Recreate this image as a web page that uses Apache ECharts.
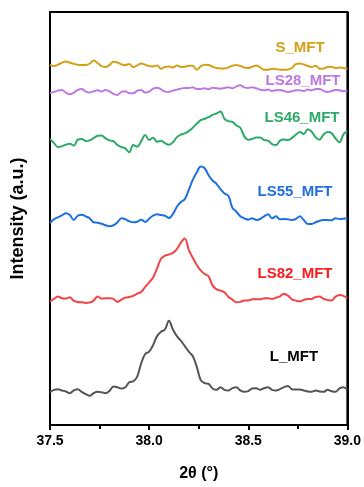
<!DOCTYPE html>
<html>
<head>
<meta charset="utf-8">
<script src="https://cdn.jsdelivr.net/npm/echarts@6/dist/echarts.min.js"></script>
<style>
  html, body { margin: 0; padding: 0; background: #fff; }
  #chart { width: 364px; height: 487px; }
</style>
</head>
<body>
<div id="chart"></div>
<script>
// 2theta sampling grid
var twoTheta = [
  37.50, 37.52, 37.54, 37.56, 37.58, 37.60, 37.62, 37.64, 37.66, 37.68,
  37.70, 37.72, 37.74, 37.76, 37.78, 37.80, 37.82, 37.84, 37.86, 37.88,
  37.90, 37.92, 37.94, 37.96, 37.98, 38.00, 38.02, 38.04, 38.06, 38.08,
  38.10, 38.12, 38.14, 38.16, 38.18, 38.20, 38.22, 38.24, 38.26, 38.28,
  38.30, 38.32, 38.34, 38.36, 38.38, 38.40, 38.42, 38.44, 38.46, 38.48,
  38.50, 38.52, 38.54, 38.56, 38.58, 38.60, 38.62, 38.64, 38.66, 38.68,
  38.70, 38.72, 38.74, 38.76, 38.78, 38.80, 38.82, 38.84, 38.86, 38.88,
  38.90, 38.92, 38.94, 38.96, 38.98, 39.00
];
var xTicks = [37.5, 38.0, 38.5, 39.0];

// intensities (already offset for stacking)
var L_MFT = [
  33.0, 35.3, 36.0, 34.7, 33.7, 32.0, 34.7, 36.0, 33.3, 31.0,
  29.3, 32.0, 33.3, 33.0, 32.0, 34.3, 38.7, 38.0, 36.7, 38.0,
  43.0, 44.0, 48.7, 62.0, 71.3, 73.7, 80.3, 89.3, 93.7, 96.0,
  104.7, 96.0, 89.3, 84.7, 79.3, 73.7, 69.3, 58.7, 45.3, 42.0,
  41.3, 36.7, 35.3, 38.0, 35.3, 34.7, 37.0, 38.0, 34.7, 33.3,
  34.0, 36.7, 37.0, 35.3, 37.0, 38.0, 35.3, 34.7, 36.0, 38.0,
  39.3, 36.0, 35.7, 35.7, 34.7, 33.7, 33.3, 34.7, 33.7, 33.3,
  35.3, 34.0, 33.3, 36.7, 38.0, 35.3
];
var LS82_MFT = [
  124.0, 126.7, 129.0, 127.3, 127.0, 128.3, 124.7, 123.7, 123.3, 122.7,
  123.0, 125.0, 129.0, 127.0, 127.3, 127.3, 126.7, 123.7, 126.0, 128.0,
  128.7, 129.7, 132.0, 133.7, 138.7, 143.3, 148.3, 157.3, 167.0, 170.3,
  171.3, 173.0, 176.7, 183.3, 187.3, 176.0, 168.0, 161.0, 155.3, 151.7,
  149.3, 140.3, 136.3, 135.0, 133.3, 128.7, 126.0, 123.3, 123.7, 125.0,
  125.0, 126.3, 126.3, 126.3, 127.3, 127.3, 126.7, 128.0, 129.3, 132.0,
  130.0, 126.3, 125.0, 124.3, 125.7, 126.7, 126.7, 128.7, 129.0, 126.7,
  125.7, 125.0, 129.0, 130.7, 129.7, 127.3
];
var LS55_MFT = [
  203.0, 206.7, 208.7, 210.7, 212.7, 211.0, 206.0, 210.3, 211.3, 209.7,
  207.7, 203.7, 203.3, 202.3, 200.7, 199.7, 200.7, 203.7, 207.7, 206.7,
  204.7, 203.7, 204.3, 206.3, 204.0, 207.3, 210.3, 211.7, 211.0, 210.3,
  208.0, 212.0, 219.3, 224.0, 227.0, 236.3, 246.3, 253.7, 259.7, 258.0,
  251.0, 245.7, 242.3, 237.0, 232.7, 230.3, 218.3, 214.3, 209.7, 207.7,
  206.3, 207.7, 206.0, 207.0, 209.7, 211.7, 207.7, 209.7, 206.7, 207.0,
  206.7, 206.0, 207.0, 209.7, 206.0, 202.0, 202.0, 203.7, 205.3, 206.0,
  206.0, 205.7, 207.7, 207.0, 207.3, 207.7
];
var LS46_MFT = [
  287.3, 283.3, 279.3, 280.0, 281.7, 282.7, 280.7, 286.7, 287.3, 285.3,
  286.0, 288.3, 290.7, 291.0, 288.0, 286.0, 285.3, 281.3, 279.3, 278.0,
  274.0, 281.3, 279.7, 285.3, 291.3, 286.3, 288.7, 284.7, 285.7, 283.3,
  281.7, 284.0, 289.3, 291.7, 293.0, 295.3, 298.7, 302.7, 306.3, 307.7,
  309.3, 311.7, 313.0, 315.0, 307.7, 305.3, 304.7, 301.0, 298.7, 290.0,
  286.7, 287.3, 289.0, 289.0, 286.3, 285.7, 282.3, 281.3, 285.7, 287.0,
  286.3, 288.3, 291.7, 294.3, 292.3, 297.3, 294.7, 289.0, 286.7, 292.0,
  294.3, 293.3, 288.0, 284.0, 292.0, 295.3
];
var LS28_MFT = [
  333.7, 334.7, 336.0, 336.7, 334.0, 332.3, 334.0, 336.7, 337.7, 335.3,
  334.0, 335.3, 336.3, 335.0, 336.7, 335.3, 332.7, 331.7, 334.7, 335.3,
  333.3, 333.3, 336.0, 336.7, 334.0, 335.0, 338.0, 339.0, 337.3, 335.0,
  334.7, 336.0, 337.0, 338.0, 338.7, 338.7, 339.3, 337.7, 337.7, 338.3,
  337.3, 339.0, 338.3, 338.0, 338.7, 339.3, 338.3, 340.3, 341.3, 339.3,
  338.7, 339.3, 338.3, 337.0, 336.3, 337.0, 335.7, 336.3, 336.7, 335.7,
  334.7, 335.3, 336.3, 336.3, 335.7, 337.0, 336.3, 337.7, 337.7, 335.7,
  334.7, 335.7, 336.7, 336.3, 335.3, 336.0
];
var S_MFT = [
  362.0, 360.7, 362.0, 364.0, 365.3, 364.0, 363.0, 362.0, 361.7, 361.7,
  363.0, 366.3, 363.7, 360.7, 359.7, 361.7, 365.0, 364.3, 362.3, 361.7,
  362.7, 359.7, 361.3, 363.3, 362.0, 360.7, 360.3, 361.3, 358.0, 359.7,
  360.3, 359.3, 361.3, 359.7, 360.0, 361.0, 361.0, 357.0, 360.3, 362.0,
  361.7, 360.0, 358.7, 358.3, 358.3, 359.3, 361.0, 361.7, 360.7, 359.3,
  358.7, 360.0, 361.3, 359.3, 357.0, 357.0, 358.0, 357.7, 357.0, 357.0,
  357.3, 358.7, 362.7, 363.3, 362.3, 360.7, 359.7, 361.0, 358.0, 358.3,
  359.7, 360.0, 358.7, 359.3, 358.7, 358.0
];

var names = ["S_MFT", "LS28_MFT", "LS46_MFT", "LS55_MFT", "LS82_MFT", "L_MFT"];
var values = [S_MFT, LS28_MFT, LS46_MFT, LS55_MFT, LS82_MFT, L_MFT];
var lineColors = ["#D4A017", "#BE78E4", "#2EAA68", "#1E6FE0", "#F24444", "#555555"];
var textColors = ["#D4A017", "#BE78E4", "#2EAA68", "#1E6FE0", "#FF1A1A", "#000000"];
// label centres in px
var labelPos = [[300, 48], [303, 81], [302, 118], [295, 192], [295, 274], [294, 357]];

var myChart = null;
window.onload = function () {
  myChart = echarts.init(document.getElementById("chart"), null, { renderer: "canvas" });
  drawChart();
};

function pairs(ys) {
  return ys.map(function (y, i) {
    return [twoTheta[i], y];
  });
}

function blackLine() {
  return { color: "#000", width: 2 };
}

function drawChart() {
  var font = "Liberation Sans, Arial, sans-serif";
  var series = names.map(function (n, k) {
    return {
      name: n,
      type: "line",
      data: pairs(values[k]),
      smooth: 0.35,
      showSymbol: false,
      lineStyle: { color: lineColors[k], width: 2 },
      z: 3,
    };
  });
  var gfx = names.map(function (n, k) {
    return {
      type: "text",
      x: labelPos[k][0],
      y: labelPos[k][1],
      style: {
        text: n,
        fill: textColors[k],
        font: "bold 15px " + font,
        align: "center",
        verticalAlign: "middle",
      },
    };
  });
  myChart.setOption({
    animation: false,
    grid: {
      left: 50,
      right: 15,
      top: 12,
      bottom: 60,
      show: true,
      borderColor: "#000",
      borderWidth: 2,
    },
    xAxis: {
      type: "value",
      min: 37.5,
      max: 39.0,
      interval: 0.5,
      position: "bottom",
      name: "2θ (°)",
      nameLocation: "middle",
      nameGap: 41,
      nameTextStyle: { color: "#000", fontWeight: "bold", fontSize: 16, fontFamily: font },
      axisLine: { show: true, onZero: false, lineStyle: blackLine() },
      axisTick: { show: true, inside: false, length: 5, lineStyle: blackLine() },
      minorTick: { show: true, splitNumber: 2, length: 4, lineStyle: blackLine() },
      // split line only at 39.0 -> right edge of the frame
      splitLine: {
        show: true,
        lineStyle: {
          color: ["rgba(0,0,0,0)", "rgba(0,0,0,0)", "rgba(0,0,0,0)", "#000"],
          width: 2,
        },
      },
      axisLabel: {
        color: "#000",
        fontWeight: "bold",
        fontSize: 14,
        fontFamily: font,
        margin: 9,
        formatter: function (v) {
          return xTicks.indexOf(v) >= 0 ? v.toFixed(1) : "";
        },
      },
    },
    yAxis: {
      type: "value",
      min: 0,
      max: 415,
      interval: 415,
      position: "left",
      name: "Intensity (a.u.)",
      nameLocation: "middle",
      nameGap: 23,
      nameTextStyle: { color: "#000", fontWeight: "bold", fontSize: 18, fontFamily: font },
      axisLine: { show: true, onZero: false, lineStyle: blackLine() },
      axisTick: { show: false },
      axisLabel: { show: false },
      // split line only at the max -> top edge of the frame
      splitLine: {
        show: true,
        lineStyle: { color: ["rgba(0,0,0,0)", "#000"], width: 2 },
      },
    },
    graphic: { elements: gfx },
    series: series,
  });
}
</script>
</body>
</html>
